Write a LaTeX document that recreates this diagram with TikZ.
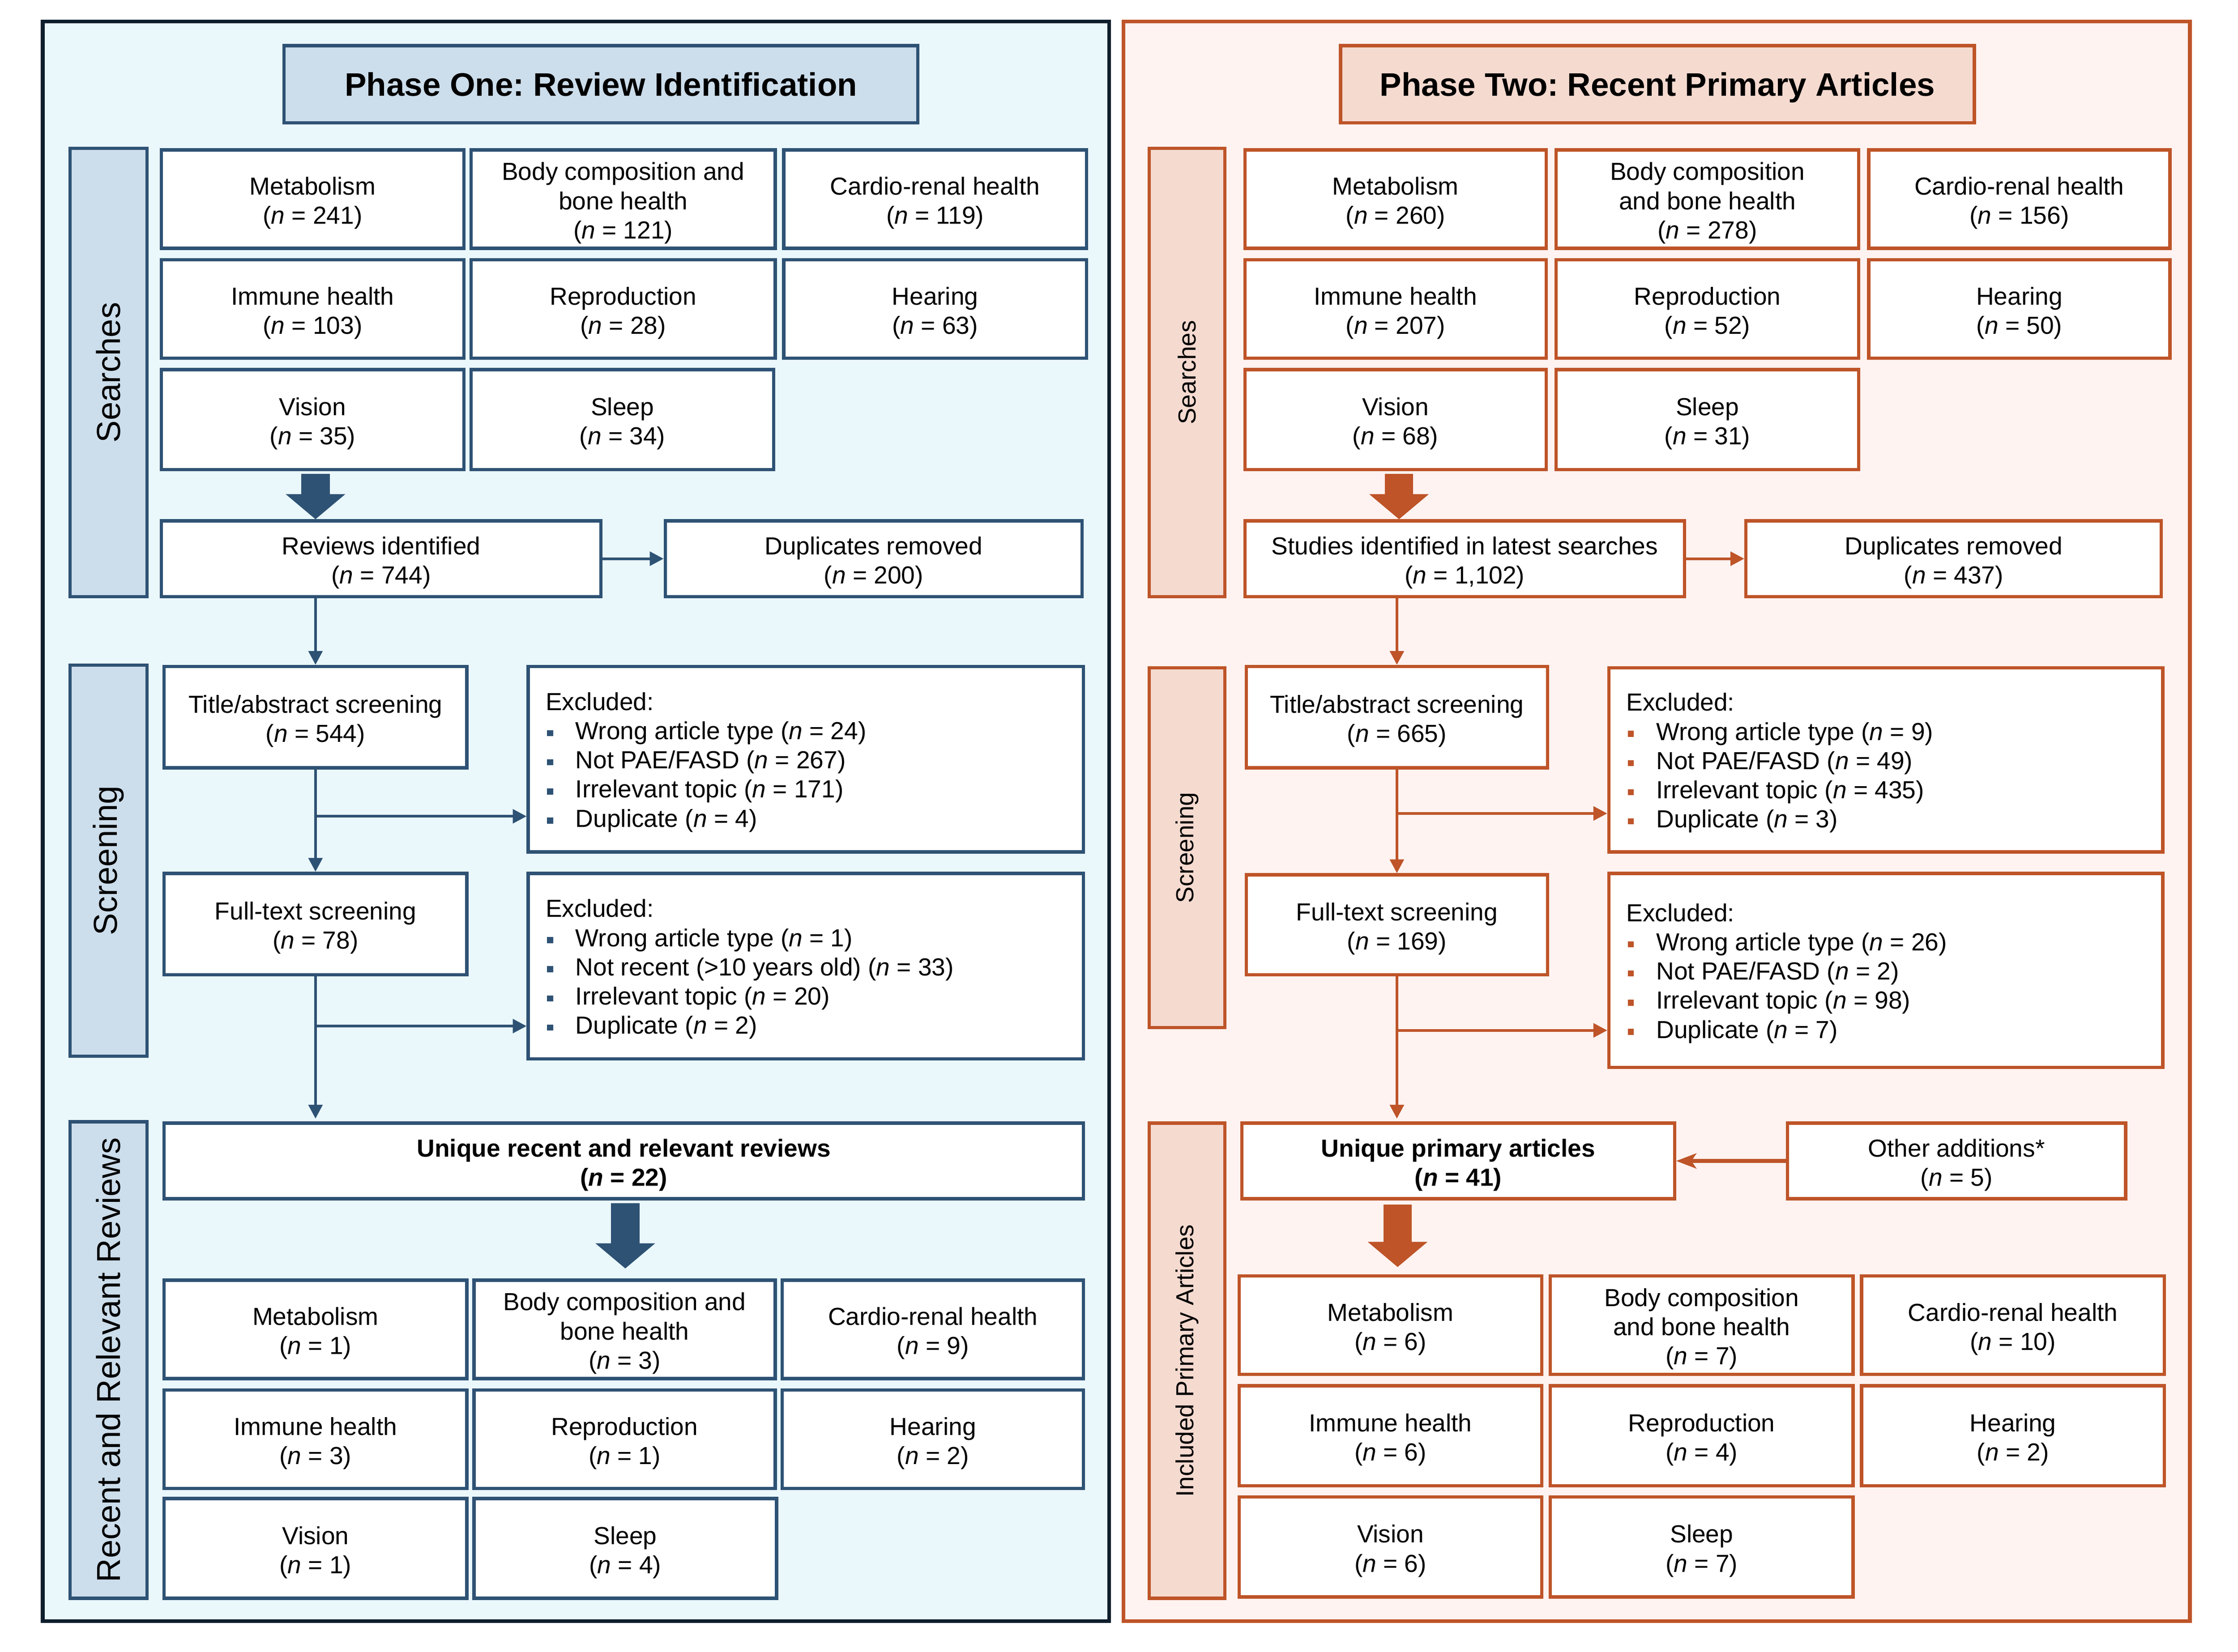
\documentclass[tikz,border=0pt]{standalone}
\usepackage{fontspec}
\setmainfont{Liberation Sans}
\usetikzlibrary{arrows.meta}
\frenchspacing
\definecolor{blueline}{RGB}{46,82,116}
\definecolor{bluepanel}{RGB}{234,248,252}
\definecolor{bluelab}{RGB}{204,221,235}
\definecolor{darkframe}{RGB}{14,30,44}
\definecolor{orline}{RGB}{190,84,40}
\definecolor{orpanel}{RGB}{254,243,241}
\definecolor{orlab}{RGB}{245,218,208}
\newcommand{\nn}{\textit{n}}
\newcommand{\bodyfont}{\fontsize{9.8}{11.6}\selectfont}
\newcommand{\blt}[1]{\makebox[11.9pt][l]{\hspace{0.6pt}\textcolor{#1}{\rule[1.3pt]{2.4pt}{2.4pt}}}}
\newcommand{\un}{0.01994cm}
% style, name, x1, y1, x2, y2
\newcommand{\myframe}[6]{\node[#1, minimum width={(#5-#3)*\un}, minimum height={(#6-#4)*\un}] (#2) at ({(#3+#5)/2},{(#4+#6)/2}) {};}
% style, name, x1, y1, x2, y2, text
\newcommand{\mybox}[7]{\myframe{#1}{#2}{#3}{#4}{#5}{#6}\node[boxtext] (#2t) at ([yshift=-1.6pt]#2.center) {#7};}
\newcommand{\myside}[7]{\node[#1, rotate=90, minimum width={(#6-#4)*\un}, minimum height={(#5-#3)*\un}] (#2) at ({(#3+#5)/2},{(#4+#6)/2}) {#7};}
\tikzset{
  panelL/.style={draw=darkframe, fill=bluepanel, line width=1.5pt, inner sep=0pt},
  panelR/.style={draw=orline, fill=orpanel, line width=1.5pt, inner sep=0pt},
  boxL/.style={draw=blueline, fill=white, line width=1.3pt, inner sep=0pt},
  boxR/.style={draw=orline, fill=white, line width=1.3pt, inner sep=0pt},
  boxtext/.style={align=center, inner sep=0pt, font=\bodyfont},
  headL/.style={draw=blueline, fill=bluelab, line width=1.3pt, inner sep=0pt},
  headR/.style={draw=orline, fill=orlab, line width=1.3pt, inner sep=0pt},
  headtext/.style={inner sep=0pt, text height=9.4pt, text depth=0pt, font=\bfseries\fontsize{12.95}{15}\selectfont},
  sideL/.style={draw=blueline, fill=bluelab, line width=1.3pt, font=\fontsize{13.2}{15}\selectfont},
  sideR/.style={draw=orline, fill=orlab, line width=1.3pt, font=\fontsize{9.8}{12}\selectfont},
  exctext/.style={anchor=west, align=left, inner sep=0pt, font=\bodyfont},
  arrL/.style={draw=blueline, line width=1.1pt, -{Triangle[length=5.5pt,width=5.5pt]}},
  arrR/.style={draw=orline, line width=1.1pt, -{Triangle[length=5.5pt,width=5.5pt]}},
  arrRthick/.style={draw=orline, line width=1.6pt, -{Stealth[length=8pt,width=6pt,inset=2pt]}},
  bigL/.style={draw=blueline, line width=11.3pt, -{Triangle[length=10pt,width=23.2pt]}},
  bigR/.style={draw=orline, line width=11.3pt, -{Triangle[length=10pt,width=23.2pt]}},
}
\begin{document}
\begin{tikzpicture}[x=\un, y=-\un]
\useasboundingbox (0,0) rectangle (1567.7,1157.5);
% ---------------- panels
\myframe{panelL}{panL}{30}{15}{777}{1136}
\myframe{panelR}{panR}{787}{15}{1534}{1136}
% ---------------- Phase One
\myframe{headL}{hL}{199}{32}{643}{86}
\node[headtext] (hLt) at (hL.center) {Phase One: Review Identification};
\myside{sideL}{sL1}{49}{104}{103}{418}{Searches}
\myside{sideL}{sL2}{49}{466}{103}{740}{Screening}
\myside{sideL}{sL3}{49}{786}{103}{1120}{Recent and Relevant Reviews}

\mybox{boxL}{L11}{113}{105}{325}{174}{Metabolism\\(\nn{} = 241)}
\mybox{boxL}{L12}{330}{105}{543}{174}{Body composition and\\bone health\\(\nn{} = 121)}
\mybox{boxL}{L13}{549}{105}{761}{174}{Cardio-renal health\\(\nn{} = 119)}
\mybox{boxL}{L21}{113}{182}{325}{251}{Immune health\\(\nn{} = 103)}
\mybox{boxL}{L22}{330}{182}{543}{251}{Reproduction\\(\nn{} = 28)}
\mybox{boxL}{L23}{549}{182}{761}{251}{Hearing\\(\nn{} = 63)}
\mybox{boxL}{L31}{113}{259}{325}{329}{Vision\\(\nn{} = 35)}
\mybox{boxL}{L32}{330}{259}{542}{329}{Sleep\\(\nn{} = 34)}

\mybox{boxL}{revL}{113}{365}{421}{418}{Reviews identified\\(\nn{} = 744)}
\mybox{boxL}{dupL}{466}{365}{758}{418}{Duplicates removed\\(\nn{} = 200)}
\mybox{boxL}{tasL}{115}{467}{327}{538}{Title/abstract screening\\(\nn{} = 544)}
\myframe{boxL}{ex1L}{370}{467}{759}{597}
\node[exctext] (ex1Lt) at ([xshift=13*\un, yshift=-1.2pt]ex1L.west) {Excluded:\\
\blt{blueline}Wrong article type (\nn{} = 24)\\
\blt{blueline}Not PAE/FASD (\nn{} = 267)\\
\blt{blueline}Irrelevant topic (\nn{} = 171)\\
\blt{blueline}Duplicate (\nn{} = 4)};
\mybox{boxL}{ftsL}{115}{612}{327}{683}{Full-text screening\\(\nn{} = 78)}
\myframe{boxL}{ex2L}{370}{612}{759}{742}
\node[exctext] (ex2Lt) at ([xshift=13*\un, yshift=-1.2pt]ex2L.west) {Excluded:\\
\blt{blueline}Wrong article type (\nn{} = 1)\\
\blt{blueline}Not recent (>10 years old) (\nn{} = 33)\\
\blt{blueline}Irrelevant topic (\nn{} = 20)\\
\blt{blueline}Duplicate (\nn{} = 2)};
\mybox{boxL}{uniL}{115}{787}{759}{840}{\textbf{Unique recent and relevant reviews}\\\textbf{(\textit{n} = 22)}}

\mybox{boxL}{M11}{115}{897}{327}{966}{Metabolism\\(\nn{} = 1)}
\mybox{boxL}{M12}{332}{897}{543}{966}{Body composition and\\bone health\\(\nn{} = 3)}
\mybox{boxL}{M13}{548}{897}{759}{966}{Cardio-renal health\\(\nn{} = 9)}
\mybox{boxL}{M21}{115}{974}{327}{1043}{Immune health\\(\nn{} = 3)}
\mybox{boxL}{M22}{332}{974}{543}{1043}{Reproduction\\(\nn{} = 1)}
\mybox{boxL}{M23}{548}{974}{759}{1043}{Hearing\\(\nn{} = 2)}
\mybox{boxL}{M31}{115}{1050}{327}{1120}{Vision\\(\nn{} = 1)}
\mybox{boxL}{M32}{332}{1050}{544}{1120}{Sleep\\(\nn{} = 4)}

% connectors left
\coordinate (bigL1) at (221,332);
\draw[bigL] (bigL1) -- (bigL1 |- revL.north);
\draw[arrL] (revL.east) -- (dupL.west |- revL.east);
\draw[arrL] (tasL.north |- revL.south) -- (tasL.north);
\draw[arrL] (tasL.south) -- (ftsL.north);
\coordinate (brL1) at (221,572);
\draw[arrL] (brL1) -- (brL1 -| ex1L.west);
\coordinate (brL2) at (221,719);
\draw[arrL] (brL2) -- (brL2 -| ex2L.west);
\draw[arrL] (ftsL.south) -- ([yshift=0.04cm]ftsL.south |- uniL.north);
\coordinate (bigL2) at (438,843);
\draw[bigL] (bigL2) -- ([yshift=0.14cm]bigL2 |- M12.north);

% ---------------- Phase Two
\myframe{headR}{hR}{939}{32}{1383}{86}
\node[headtext] (hRt) at (hR.center) {Phase Two: Recent Primary Articles};
\myside{sideR}{sR1}{805}{104}{858}{418}{Searches}
\myside{sideR}{sR2}{805}{468}{858}{720}{Screening}
\myside{sideR}{sR3}{805}{787}{858}{1120}{Included Primary Articles}

\mybox{boxR}{R11}{872}{105}{1083}{174}{Metabolism\\(\nn{} = 260)}
\mybox{boxR}{R12}{1090}{105}{1302}{174}{Body composition\\and bone health\\(\nn{} = 278)}
\mybox{boxR}{R13}{1309}{105}{1520}{174}{Cardio-renal health\\(\nn{} = 156)}
\mybox{boxR}{R21}{872}{182}{1083}{251}{Immune health\\(\nn{} = 207)}
\mybox{boxR}{R22}{1090}{182}{1302}{251}{Reproduction\\(\nn{} = 52)}
\mybox{boxR}{R23}{1309}{182}{1520}{251}{Hearing\\(\nn{} = 50)}
\mybox{boxR}{R31}{872}{259}{1083}{329}{Vision\\(\nn{} = 68)}
\mybox{boxR}{R32}{1090}{259}{1302}{329}{Sleep\\(\nn{} = 31)}

\mybox{boxR}{stuR}{872}{365}{1180}{418}{Studies identified in latest searches\\(\nn{} = 1,102)}
\mybox{boxR}{dupR}{1223}{365}{1514}{418}{Duplicates removed\\(\nn{} = 437)}
\mybox{boxR}{tasR}{873}{467}{1084}{538}{Title/abstract screening\\(\nn{} = 665)}
\myframe{boxR}{ex1R}{1127}{468}{1515}{597}
\node[exctext] (ex1Rt) at ([xshift=13*\un, yshift=-1.2pt]ex1R.west) {Excluded:\\
\blt{orline}Wrong article type (\nn{} = 9)\\
\blt{orline}Not PAE/FASD (\nn{} = 49)\\
\blt{orline}Irrelevant topic (\nn{} = 435)\\
\blt{orline}Duplicate (\nn{} = 3)};
\mybox{boxR}{ftsR}{873}{613}{1084}{683}{Full-text screening\\(\nn{} = 169)}
\myframe{boxR}{ex2R}{1127}{612}{1515}{748}
\node[exctext] (ex2Rt) at ([xshift=13*\un, yshift=-1.2pt]ex2R.west) {Excluded:\\
\blt{orline}Wrong article type (\nn{} = 26)\\
\blt{orline}Not PAE/FASD (\nn{} = 2)\\
\blt{orline}Irrelevant topic (\nn{} = 98)\\
\blt{orline}Duplicate (\nn{} = 7)};
\mybox{boxR}{upaR}{870}{787}{1173}{840}{\textbf{Unique primary articles}\\\textbf{(\textit{n} = 41)}}
\mybox{boxR}{othR}{1252}{787}{1489}{840}{Other additions*\\(\nn{} = 5)}

\mybox{boxR}{N11}{868}{894}{1080}{963}{Metabolism\\(\nn{} = 6)}
\mybox{boxR}{N12}{1086}{894}{1298}{963}{Body composition\\and bone health\\(\nn{} = 7)}
\mybox{boxR}{N13}{1304}{894}{1516}{963}{Cardio-renal health\\(\nn{} = 10)}
\mybox{boxR}{N21}{868}{971}{1080}{1041}{Immune health\\(\nn{} = 6)}
\mybox{boxR}{N22}{1086}{971}{1298}{1041}{Reproduction\\(\nn{} = 4)}
\mybox{boxR}{N23}{1304}{971}{1516}{1041}{Hearing\\(\nn{} = 2)}
\mybox{boxR}{N31}{868}{1049}{1080}{1119}{Vision\\(\nn{} = 6)}
\mybox{boxR}{N32}{1086}{1049}{1298}{1119}{Sleep\\(\nn{} = 7)}

% connectors right
\coordinate (bigR1) at (980,332);
\draw[bigR] (bigR1) -- (bigR1 |- stuR.north);
\draw[arrR] (stuR.east) -- (dupR.west |- stuR.east);
\draw[arrR] (tasR.north |- stuR.south) -- (tasR.north);
\draw[arrR] (tasR.south) -- (ftsR.north);
\coordinate (brR1) at (978.5,570);
\draw[arrR] (brR1) -- (brR1 -| ex1R.west);
\coordinate (brR2) at (978.5,722);
\draw[arrR] (brR2) -- (brR2 -| ex2R.west);
\draw[arrR] (ftsR.south) -- ([yshift=0.04cm]ftsR.south |- upaR.north);
\draw[arrRthick] (othR.west) -- (upaR.east);
\coordinate (bigR2) at (979,844);
\draw[bigR] (bigR2) -- ([yshift=0.1cm]bigR2 |- N11.north);
\end{tikzpicture}
\end{document}
